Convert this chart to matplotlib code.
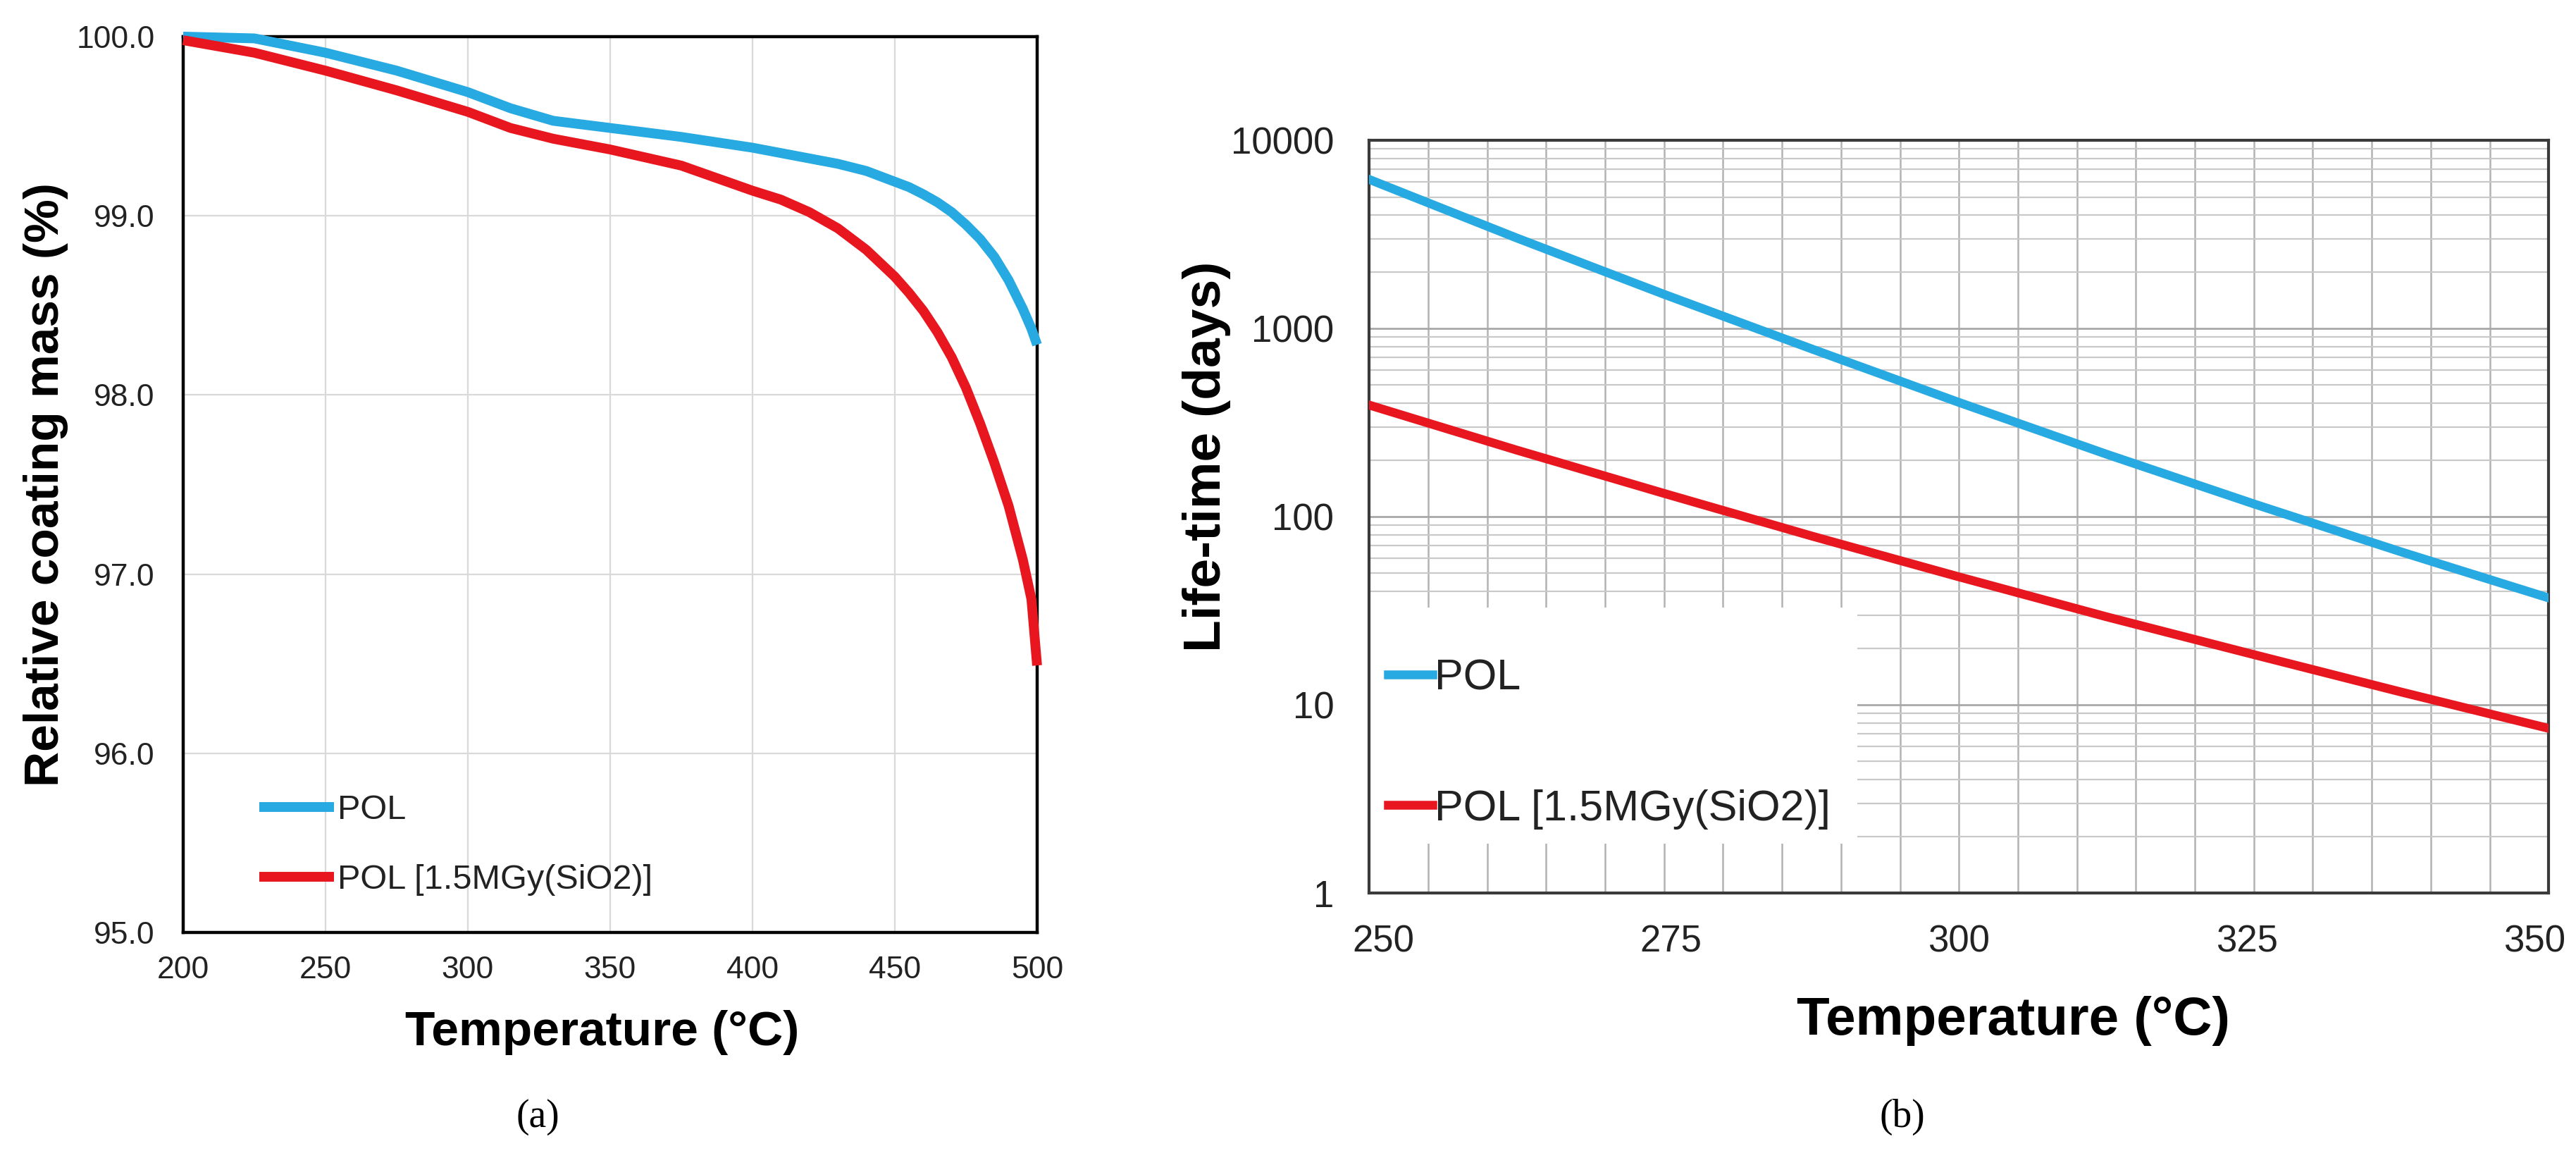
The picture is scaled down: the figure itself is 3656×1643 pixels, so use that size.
import matplotlib
matplotlib.use("Agg")
import matplotlib.pyplot as plt
from matplotlib import font_manager
from matplotlib.ticker import LogLocator, MultipleLocator, FuncFormatter, NullFormatter
import matplotlib.transforms as mtransforms
from matplotlib.patches import Rectangle

# ---------------- data ----------------
# (a) relative coating mass vs temperature
T_a = [200, 225, 250, 275, 300, 315, 330, 350, 375, 400, 410, 420, 430, 440, 450,
       455, 460, 465, 470, 475, 480, 485, 490, 495, 498, 500]
pol_a = [100.00, 99.99, 99.91, 99.81, 99.69, 99.60, 99.53, 99.49, 99.44, 99.38,
         99.35, 99.32, 99.29, 99.25, 99.19, 99.16, 99.12, 99.075, 99.02, 98.95,
         98.87, 98.77, 98.64, 98.48, 98.37, 98.28]
irr_a = [99.98, 99.91, 99.81, 99.70, 99.58, 99.49, 99.43, 99.37, 99.28, 99.14,
         99.09, 99.02, 98.93, 98.81, 98.66, 98.57, 98.47, 98.35, 98.21, 98.04,
         97.84, 97.62, 97.38, 97.08, 96.86, 96.49]
xticks_a = [200, 250, 300, 350, 400, 450, 500]
yticks_a = [95.0, 96.0, 97.0, 98.0, 99.0, 100.0]

# (b) life-time vs temperature
T_b = [250, 262.5, 275, 287.5, 300, 312.5, 325, 337.5, 350]
pol_b = [6200, 3030, 1520, 780, 405, 215, 117, 65, 37]
irr_b = [392, 226, 133, 79, 47.9, 29.4, 18.5, 11.7, 7.5]
xticks_b = [250, 275, 300, 325, 350]

series_names = ["POL", "POL [1.5MGy(SiO2)]"]

# ---------------- style ----------------
names = {f.name for f in font_manager.fontManager.ttflist}
SANS = "Liberation Sans" if "Liberation Sans" in names else "DejaVu Sans"
NARROW = "Liberation Sans Narrow" if "Liberation Sans Narrow" in names else None
SERIF = "Liberation Serif" if "Liberation Serif" in names else "DejaVu Serif"

BLUE = "#27a9e1"
RED = "#e8161e"

fig = plt.figure(figsize=(36.56, 16.43), dpi=100)

# ---------------- panel (a) ----------------
ax1 = fig.add_axes([0.0711, 0.1948, 0.3315, 0.7736])
ax1.plot(T_a, pol_a, color=BLUE, lw=10, label=series_names[0], zorder=3,
         clip_on=False, solid_joinstyle="round", solid_capstyle="butt")
ax1.plot(T_a, irr_a, color=RED, lw=10, label=series_names[1], zorder=3,
         clip_on=False, solid_joinstyle="round", solid_capstyle="butt")
ax1.set_xlim(200, 500)
ax1.set_ylim(95, 100)
ax1.set_xticks(xticks_a)
ax1.set_yticks(yticks_a)
ax1.yaxis.set_major_formatter(FuncFormatter(lambda v, p: f"{v:.1f}"))
ax1.grid(True, color="#d9d9d9", lw=1.6)
ax1.set_axisbelow(True)
ax1.tick_params(axis="both", length=0, labelsize=32, colors="#222222")
ax1.tick_params(axis="x", pad=24)
ax1.tick_params(axis="y", pad=29)
for lab in ax1.get_xticklabels() + ax1.get_yticklabels():
    lab.set_fontfamily(SANS)
for sp in ax1.spines.values():
    sp.set_linewidth(3.2)
    sp.set_color("black")

if NARROW:
    ax1.set_xlabel("Temperature (°C)", fontfamily=NARROW, fontweight="bold",
                   fontsize=60, va="center")
else:
    ax1.set_xlabel("Temperature (°C)", fontfamily=SANS, fontweight="bold",
                   fontsize=50, va="center")
ax1.xaxis.set_label_coords(0.491, -0.1117)
ax1.set_ylabel("Relative coating mass (%)", fontfamily=SANS, fontweight="bold",
               fontsize=50, va="center")
ax1.yaxis.set_label_coords(-0.161, 0.4996)

leg1 = ax1.legend(loc="center left", bbox_to_anchor=(0.0891, 0.0976),
                  frameon=False, borderpad=0, borderaxespad=0,
                  handlelength=2.18, handletextpad=0.1, labelspacing=1.1,
                  prop={"family": SANS, "size": 35})
for t in leg1.get_texts():
    t.set_color("#222222")

# ---------------- panel (b) ----------------
ax2 = fig.add_axes([0.5315, 0.2288, 0.4579, 0.6500])
ax2.set_yscale("log")
ax2.plot(T_b, pol_b, color=BLUE, lw=9, label=series_names[0], zorder=3,
         solid_joinstyle="round")
ax2.plot(T_b, irr_b, color=RED, lw=9, label=series_names[1], zorder=3,
         solid_joinstyle="round")
ax2.set_xlim(250, 350)
ax2.set_ylim(1, 10000)
ax2.set_xticks(xticks_b)
ax2.xaxis.set_minor_locator(MultipleLocator(5))
ax2.yaxis.set_major_locator(LogLocator(base=10, numticks=10))
ax2.yaxis.set_minor_locator(LogLocator(base=10, subs=range(2, 10), numticks=40))
ax2.yaxis.set_minor_formatter(NullFormatter())
ax2.yaxis.set_major_formatter(FuncFormatter(lambda v, p: f"{int(round(v))}"))
ax2.grid(True, which="major", axis="y", color="#a8a8a8", lw=2.0)
ax2.grid(True, which="minor", axis="y", color="#c9c9c9", lw=1.6)
ax2.grid(True, which="both", axis="x", color="#b3b3b3", lw=1.8)
ax2.set_axisbelow(True)
ax2.tick_params(axis="both", which="both", length=0, labelsize=38, colors="#222222")
ax2.tick_params(axis="x", pad=32)
ax2.tick_params(axis="y", pad=36)
for lab in ax2.get_xticklabels() + ax2.get_yticklabels():
    lab.set_fontfamily(SANS)
for sp in ax2.spines.values():
    sp.set_linewidth(3.0)
    sp.set_color("#3a3a3a")

# tick labels of (b) sit slightly inward of their gridlines
label_shift_px = [20, 10, 0, -10, -20]
for lab, dx in zip(ax2.get_xticklabels(), label_shift_px):
    lab.set_transform(lab.get_transform() +
                      mtransforms.ScaledTranslation(dx / fig.dpi, 0, fig.dpi_scale_trans))

# white legend background
ax2.add_patch(Rectangle((0, 0.0655), 0.414, 0.3137, transform=ax2.transAxes,
                        facecolor="white", edgecolor="none", zorder=1.5))

if NARROW:
    ax2.set_xlabel("Temperature (°C)", fontfamily=NARROW, fontweight="bold",
                   fontsize=66, va="center")
else:
    ax2.set_xlabel("Temperature (°C)", fontfamily=SANS, fontweight="bold",
                   fontsize=55, va="center")
ax2.xaxis.set_label_coords(0.546, -0.1695)
ax2.set_ylabel("Life-time (days)", fontfamily=SANS, fontweight="bold",
               fontsize=54, va="center")
ax2.yaxis.set_label_coords(-0.138, 0.5796)

leg2 = ax2.legend(loc="center left", bbox_to_anchor=(0.0161, 0.198),
                  frameon=False, borderpad=0, borderaxespad=0,
                  handlelength=1.03, handletextpad=0.05, labelspacing=2.1,
                  prop={"family": SANS, "size": 44})
leg2.set_zorder(5)
for t in leg2.get_texts():
    t.set_color("#222222")

# ---------------- captions ----------------
fig.text(0.2087, 0.0353, "(a)", ha="center", va="center", fontfamily=SERIF, fontsize=40)
fig.text(0.7385, 0.0353, "(b)", ha="center", va="center", fontfamily=SERIF, fontsize=40)

fig.savefig("out.png", dpi=100, facecolor="white")
